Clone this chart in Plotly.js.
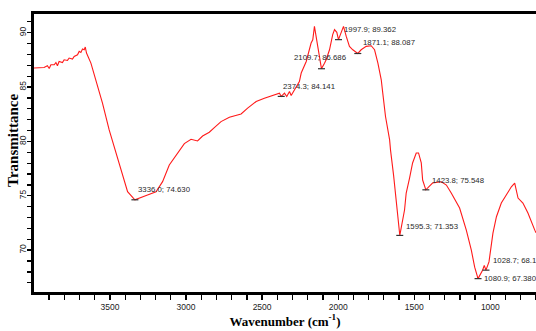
<!DOCTYPE html>
<html>
<head>
<meta charset="utf-8">
<script src="https://cdn.plot.ly/plotly-3.0.1.min.js"></script>
<style>html,body{margin:0;padding:0;background:#fff;}#chart{width:536px;height:331px;}</style>
</head>
<body>
<div id="chart"></div>
<script>
// Spectrum values
const wavenumber = [4000,3966,3933,3911,3899,3888,3866,3855,3845,3834,3812,3801,3779,3768,3746,3735,3713,3702,3691,3680,3669,3662,3654,3625,3592,3549,3505,3461,3417,3384,3336,3307,3253,3197,3154,3110,3066,3011,2967,2924,2891,2847,2814,2770,2715,2671,2638,2595,2539,2485,2430,2386,2374,2353,2338,2320,2309,2287,2255,2243,2210,2178,2167,2156,2145,2134,2110,2090,2079,2057,2036,2024,2009,1998,1980,1965,1947,1926,1904,1878,1871,1849,1816,1783,1761,1739,1717,1707,1689,1662,1656,1636,1616,1603,1595,1564,1553,1531,1511,1487,1472,1454,1445,1424,1380,1322,1289,1257,1202,1158,1125,1103,1081,1051,1040,1029,1009,983,960,928,895,862,840,818,786,753,708,700];
const transmittance = [86.75,86.8,86.8,86.96,86.71,87.05,87.05,87.26,86.96,87.35,87.26,87.51,87.45,87.67,87.58,87.82,87.97,88.28,88.18,88.5,88.43,88.68,88.13,87.2,85.67,83.52,81.06,78.94,76.76,75.38,74.63,74.76,75.07,75.37,76.3,77.83,78.75,79.8,80.2,80.04,80.5,80.85,81.27,81.82,82.23,82.38,82.53,83.06,83.67,83.98,84.22,84.44,84.14,84.44,84.13,84.59,84.22,84.75,85.51,86.29,87.35,89.05,89.35,90.58,89.66,88.43,86.69,87.2,87.51,88.43,89.82,90.28,90.03,89.36,89.97,90.58,89.66,88.74,88.43,88.18,88.09,88.43,88.74,88.8,88.43,87.21,85.67,84.44,82.29,80.14,79.2,76.9,74.15,72.3,71.35,73.69,75.25,76.63,78.02,78.94,78.94,78.02,76.45,75.55,76.17,76.29,75.99,75.25,73.87,71.84,70.0,68.43,67.38,68.15,68.6,68.16,68.92,71.56,73.07,74.33,75.07,75.83,76.17,74.79,74.33,73.41,71.84,71.6];

// Labelled peaks
const peakWn = [3336.0, 2374.3, 2109.7, 1997.9, 1871.1, 1595.3, 1423.8, 1028.7, 1080.9];
const peakT = [74.630, 84.141, 86.686, 89.362, 88.087, 71.353, 75.548, 68.16, 67.380];
const peakLabels = ["3336.0; 74.630", "2374.3; 84.141", "2109.7; 86.686", "1997.9; 89.362", "1871.1; 88.087", "1595.3; 71.353", "1423.8; 75.548", "1028.7; 68.16", "1080.9; 67.380"];

// label offsets in pixels (layout only)
const labelShift = [[1.5,10],[0,10],[-29,11.5],[3.7,10],[3.4,11],[3.8,9.3],[3.7,9],[4.7,10],[4.3,0]];

const traces = [
  {x: wavenumber, y: transmittance, type: 'scatter', mode: 'lines',
   line: {color: '#ff1a1a', width: 1.1}, hoverinfo: 'skip'},
  {x: peakWn, y: peakT, type: 'scatter', mode: 'markers',
   marker: {symbol: 'line-ew', size: 5, line: {color: '#333', width: 1.2}}, hoverinfo: 'skip'}
];

const annotations = peakLabels.map((t, i) => ({
  x: peakWn[i], y: peakT[i], xref: 'x', yref: 'y', text: t, showarrow: false,
  xanchor: 'left', yanchor: 'middle', xshift: labelShift[i][0], yshift: labelShift[i][1],
  font: {family: 'Liberation Sans, Arial, sans-serif', size: 7.8, color: '#2a2a2a'}
}));

annotations.push({
  xref: 'paper', yref: 'paper', x: 0, y: 0.5, xshift: -21, yshift: 12,
  xanchor: 'center', yanchor: 'middle', showarrow: false, textangle: -90,
  text: 'Transmittance',
  font: {family: 'Liberation Serif, Times New Roman, serif', size: 15, color: '#000', weight: 'bold'}
});

const layout = {
  width: 536, height: 331,
  margin: {l: 34, r: 0, t: 14, b: 39},
  paper_bgcolor: '#fff', plot_bgcolor: '#fff',
  showlegend: false,
  font: {family: 'Liberation Sans, Arial, sans-serif', size: 8.5, color: '#222'},
  xaxis: {
    range: [3999, 700], showgrid: false, zeroline: false,
    showline: true, linecolor: '#000', linewidth: 3, mirror: true,
    ticks: 'outside', tick0: 0, dtick: 500, ticklen: 5, tickwidth: 1.3, tickcolor: '#000',
    minor: {dtick: 100, tick0: 0, ticks: 'outside', ticklen: 5, tickwidth: 1.3, tickcolor: '#000'},
    tickfont: {size: 8.5, color: '#222'},
    title: {text: 'Wavenumber (cm<sup>-1</sup>)', standoff: 4,
            font: {family: 'Liberation Serif, Times New Roman, serif', size: 13, color: '#000', weight: 'bold'}}
  },
  yaxis: {
    range: [66.15, 91.72], showgrid: false, zeroline: false,
    showline: true, linecolor: '#000', linewidth: 3, mirror: false,
    ticks: 'outside', tick0: 0, dtick: 5, ticklen: 4, tickwidth: 1.3, tickcolor: '#000',
    minor: {dtick: 1, tick0: 0, ticks: 'outside', ticklen: 4, tickwidth: 1.3, tickcolor: '#000'},
    tickangle: -90, ticklabelstandoff: -2,
    tickfont: {size: 8.5, color: '#222'}
  },
  annotations: annotations
};

Plotly.newPlot('chart', traces, layout, {staticPlot: true, displayModeBar: false});
</script>
</body>
</html>
